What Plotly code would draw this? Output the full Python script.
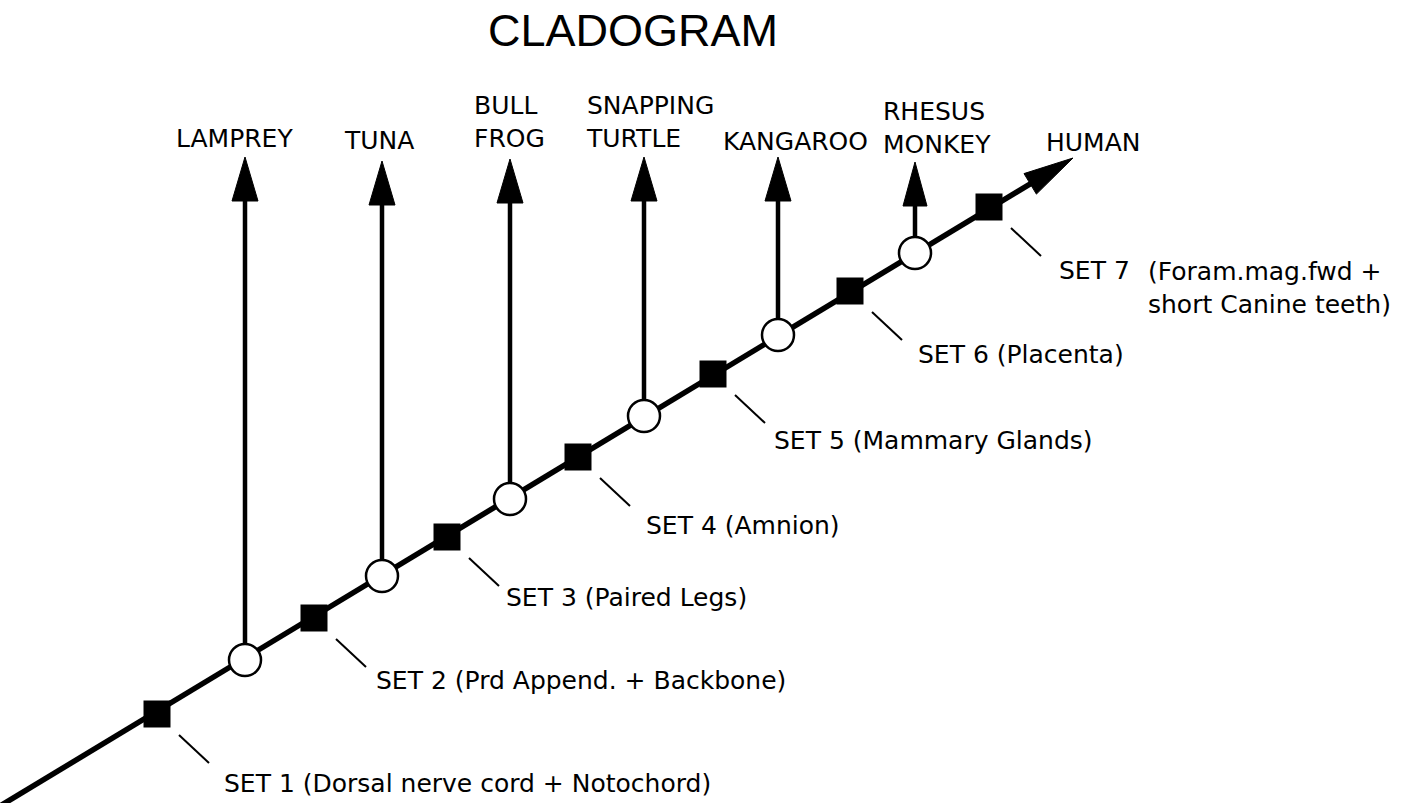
import plotly.graph_objects as go

# ---------------- data ----------------
title_text = "CLADOGRAM"

# trunk (main lineage) end points, in picture units
trunk_start = (0, 806)
trunk_tip = (1073, 158)

# branch nodes (open circles) and the taxa they lead to
taxa = ["LAMPREY", "TUNA", "BULL<br>FROG", "SNAPPING<br>TURTLE", "KANGAROO", "RHESUS<br>MONKEY"]
node_x = [245, 382, 510, 644, 778, 915]
node_y = [660, 576, 499, 416, 335, 253]
branch_tip_y = [157, 161, 159, 157, 157, 162]

# shared derived characters (filled squares)
set_names = ["SET 1 (Dorsal nerve cord + Notochord)", "SET 2 (Prd Append. + Backbone)",
             "SET 3 (Paired Legs)", "SET 4 (Amnion)", "SET 5 (Mammary Glands)",
             "SET 6 (Placenta)", "SET 7"]
set_x = [157, 314, 447, 578, 713, 850, 989]
set_y = [714, 618, 537, 457, 374, 291, 207]
set7_extra = "(Foram.mag.fwd +<br>short Canine teeth)"
end_taxon = "HUMAN"

# ---------------- layout constants (text placement) ----------------
taxon_label_x = [174, 342, 472, 584, 721, 881]
taxon_label_y = [138, 140, 122, 122, 141, 128]
human_label = (1044, 142)
set_label_x = [222, 374, 504, 644, 772, 916, 1057]
set_label_y = [783, 680, 597, 525, 440, 354, 270]
set7_extra_pos = (1146, 288)

FONT = "DejaVu Sans"
BLACK = "#000000"

fig = go.Figure()

# trunk line (stops under the arrowhead)
dx = trunk_tip[0] - trunk_start[0]
dy = trunk_tip[1] - trunk_start[1]
L = (dx ** 2 + dy ** 2) ** 0.5
ux, uy = dx / L, dy / L
head_len, head_half = 50, 12
base_x, base_y = trunk_tip[0] - head_len * ux, trunk_tip[1] - head_len * uy
fig.add_trace(go.Scatter(x=[trunk_start[0], base_x + 4 * ux], y=[trunk_start[1], base_y + 4 * uy],
                         mode="lines", line=dict(color=BLACK, width=5.5), hoverinfo="skip"))
# trunk arrowhead
px, py = -uy, ux
fig.add_trace(go.Scatter(
    x=[trunk_tip[0], base_x + head_half * px, base_x - head_half * px, trunk_tip[0]],
    y=[trunk_tip[1], base_y + head_half * py, base_y - head_half * py, trunk_tip[1]],
    mode="lines", fill="toself", fillcolor=BLACK, line=dict(color=BLACK, width=1), hoverinfo="skip"))

# vertical branches with arrowheads
v_head_len, v_head_half = 44, 13
for i in range(len(node_x)):
    fig.add_trace(go.Scatter(x=[node_x[i], node_x[i]], y=[node_y[i], branch_tip_y[i] + v_head_len - 2],
                             mode="lines", line=dict(color=BLACK, width=4.5), hoverinfo="skip"))
    hh = v_head_half if i < len(node_x) - 1 else 12
    fig.add_trace(go.Scatter(
        x=[node_x[i], node_x[i] - hh, node_x[i] + hh, node_x[i]],
        y=[branch_tip_y[i], branch_tip_y[i] + v_head_len, branch_tip_y[i] + v_head_len, branch_tip_y[i]],
        mode="lines", fill="toself", fillcolor=BLACK, line=dict(color=BLACK, width=1), hoverinfo="skip"))

# leader lines from squares to labels
lead_a, lead_b = (22, 21), (52, 49)
for i in range(len(set_x)):
    fig.add_trace(go.Scatter(x=[set_x[i] + lead_a[0], set_x[i] + lead_b[0]],
                             y=[set_y[i] + lead_a[1], set_y[i] + lead_b[1]],
                             mode="lines", line=dict(color=BLACK, width=2), hoverinfo="skip"))

# squares (synapomorphies)
fig.add_trace(go.Scatter(x=set_x, y=set_y, mode="markers",
                         marker=dict(symbol="square", size=27, color=BLACK, line=dict(width=0)),
                         hoverinfo="skip"))
# open circles (branch nodes)
fig.add_trace(go.Scatter(x=node_x, y=node_y, mode="markers",
                         marker=dict(symbol="circle", size=32, color="white",
                                     line=dict(color=BLACK, width=2.5)),
                         hoverinfo="skip"))

annotations = []
annotations.append(dict(x=633, y=30, xref="x", yref="y", text=title_text, showarrow=False,
                        xanchor="center", yanchor="middle",
                        font=dict(family="Liberation Sans, Arial", size=45, color=BLACK)))
for i, t in enumerate(taxa):
    annotations.append(dict(x=taxon_label_x[i], y=taxon_label_y[i], xref="x", yref="y", text=t,
                            showarrow=False, xanchor="left", yanchor="middle", align="left",
                            font=dict(family=FONT, size=25, color=BLACK)))
annotations.append(dict(x=human_label[0], y=human_label[1], xref="x", yref="y", text=end_taxon,
                        showarrow=False, xanchor="left", yanchor="middle", align="left",
                        font=dict(family=FONT, size=25, color=BLACK)))
for i, t in enumerate(set_names):
    annotations.append(dict(x=set_label_x[i], y=set_label_y[i], xref="x", yref="y", text=t,
                            showarrow=False, xanchor="left", yanchor="middle", align="left",
                            font=dict(family=FONT, size=25, color=BLACK)))
annotations.append(dict(x=set7_extra_pos[0], y=set7_extra_pos[1], xref="x", yref="y", text=set7_extra,
                        showarrow=False, xanchor="left", yanchor="middle", align="left",
                        font=dict(family=FONT, size=25, color=BLACK)))

fig.update_layout(
    width=1406, height=803,
    margin=dict(l=0, r=0, t=0, b=0),
    paper_bgcolor="white", plot_bgcolor="white",
    showlegend=False,
    xaxis=dict(range=[0, 1406], visible=False, showgrid=False, zeroline=False, fixedrange=True),
    yaxis=dict(range=[803, 0], visible=False, showgrid=False, zeroline=False, fixedrange=True),
    annotations=annotations,
)

fig.write_html("out.html", config={"displayModeBar": False},
               post_script="document.body.style.margin='0px';document.body.style.overflow='hidden';")
